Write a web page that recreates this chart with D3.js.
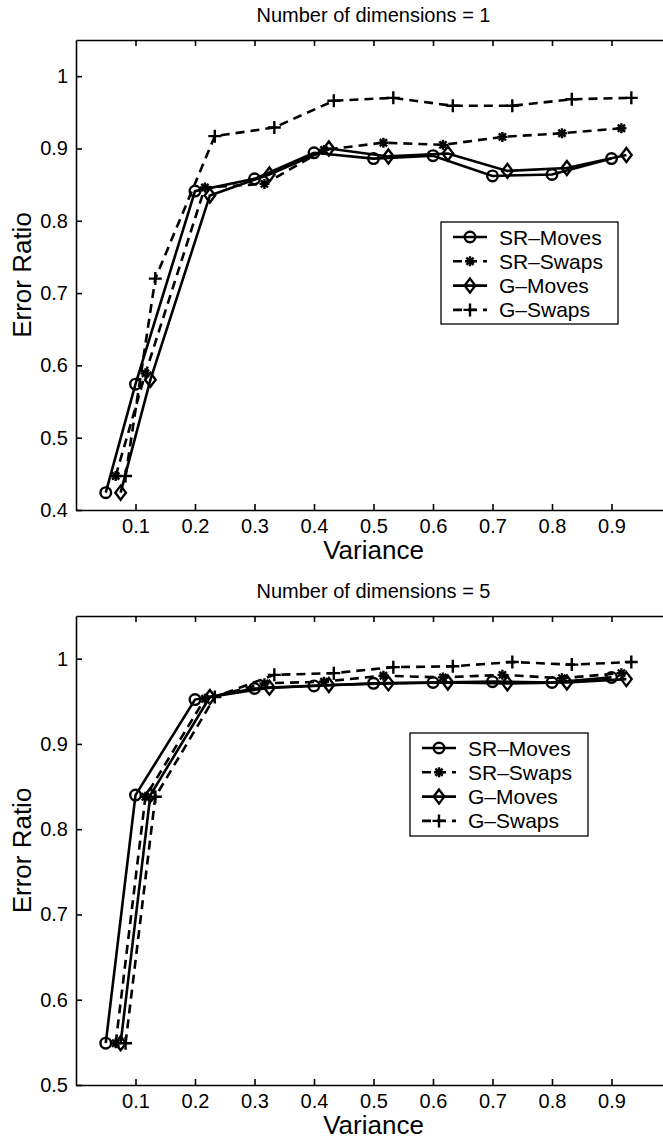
<!DOCTYPE html>
<html>
<head>
    <title>Error Ratio vs Variance</title>
    <script src="https://cdnjs.cloudflare.com/ajax/libs/d3/7.8.5/d3.min.js"></script>
    <style>
        body { margin: 0; background: white; }
        svg { display: block; font-family: "Liberation Sans", Arial, Helvetica, sans-serif; }
        .axis path, .axis line { stroke: #000; stroke-width: 1.6px; }
        .axis text { font-size: 20px; fill: #000; }
        .series { fill: none; stroke: #000; stroke-width: 2.6px; }
        .marker { fill: none; stroke: #000; stroke-width: 2.4px; }
    </style>
</head>
<body>
    <svg id="chart"></svg>

    <script>
        const width = 663;
        const height = 1140;

        // series names, marker type, dashed or not
        const seriesNames = ["SR\u2013Moves", "SR\u2013Swaps", "G\u2013Moves", "G\u2013Swaps"];
        const seriesMarkers = ["circle", "star", "diamond", "plus"];
        const seriesDashed = [false, true, false, true];

        // variance values for each series (small shift between the methods)
        const xSRMoves = [0.05, 0.1, 0.2, 0.3, 0.4, 0.5, 0.6, 0.7, 0.8, 0.9];
        const xSRSwaps = [0.0667, 0.1167, 0.2167, 0.3167, 0.4167, 0.5167, 0.6167, 0.7167, 0.8167, 0.9167];
        const xGMoves = [0.075, 0.125, 0.225, 0.325, 0.425, 0.525, 0.625, 0.725, 0.825, 0.925];
        const xGSwaps = [0.0833, 0.1333, 0.2333, 0.3333, 0.4333, 0.5333, 0.6333, 0.7333, 0.8333, 0.9333];

        // Number of dimensions = 1
        const d1SRMoves = [0.424, 0.574, 0.841, 0.858, 0.894, 0.886, 0.890, 0.862, 0.864, 0.886];
        const d1SRSwaps = [0.447, 0.589, 0.846, 0.851, 0.898, 0.908, 0.905, 0.916, 0.921, 0.928];
        const d1GMoves = [0.424, 0.580, 0.835, 0.864, 0.900, 0.889, 0.893, 0.869, 0.873, 0.891];
        const d1GSwaps = [0.447, 0.720, 0.917, 0.929, 0.966, 0.970, 0.959, 0.959, 0.968, 0.970];

        // Number of dimensions = 5
        const d5SRMoves = [0.549, 0.840, 0.952, 0.965, 0.968, 0.971, 0.972, 0.973, 0.972, 0.978];
        const d5SRSwaps = [0.549, 0.838, 0.953, 0.971, 0.973, 0.980, 0.978, 0.981, 0.977, 0.983];
        const d5GMoves = [0.549, 0.840, 0.955, 0.966, 0.969, 0.971, 0.972, 0.971, 0.972, 0.976];
        const d5GSwaps = [0.549, 0.838, 0.955, 0.981, 0.983, 0.990, 0.991, 0.996, 0.993, 0.996];

        const xTicks = [0.1, 0.2, 0.3, 0.4, 0.5, 0.6, 0.7, 0.8, 0.9];
        const yTicks1 = [0.4, 0.5, 0.6, 0.7, 0.8, 0.9, 1];
        const yTicks5 = [0.5, 0.6, 0.7, 0.8, 0.9, 1];

        const xs = [xSRMoves, xSRSwaps, xGMoves, xGSwaps];

        const panels = [
            {
                title: "Number of dimensions = 1",
                ys: [d1SRMoves, d1SRSwaps, d1GMoves, d1GSwaps],
                yDomain: [0.4, 1.05], yTicks: yTicks1,
                top: 40, bottom: 510,
                legend: {x: 441, y: 222, w: 177, h: 102}
            },
            {
                title: "Number of dimensions = 5",
                ys: [d5SRMoves, d5SRSwaps, d5GMoves, d5GSwaps],
                yDomain: [0.5, 1.05], yTicks: yTicks5,
                top: 616, bottom: 1085,
                legend: {x: 410, y: 733, w: 178, h: 103}
            }
        ];

        const left = 76;
        const right = 671;   // box runs past the window edge

        const svg = d3.select("#chart")
            .attr("width", width)
            .attr("height", height);

        function drawMarker(g, type, cx, cy) {
            if (type === "circle") {
                g.append("circle").attr("class", "marker")
                    .attr("cx", cx).attr("cy", cy).attr("r", 5.3);
            } else if (type === "diamond") {
                g.append("path").attr("class", "marker")
                    .attr("d", `M${cx},${cy - 7}L${cx + 5.3},${cy}L${cx},${cy + 7}L${cx - 5.3},${cy}Z`);
            } else if (type === "plus") {
                g.append("path").attr("class", "marker")
                    .attr("stroke-width", 2.8)
                    .attr("d", `M${cx - 6.5},${cy}H${cx + 6.5}M${cx},${cy - 6.5}V${cy + 6.5}`);
            } else if (type === "star") {
                const r = 5, q = r * 0.72;
                g.append("path").attr("class", "marker")
                    .attr("stroke-width", 2.8)
                    .attr("d", `M${cx - r},${cy}H${cx + r}M${cx},${cy - r}V${cy + r}` +
                        `M${cx - q},${cy - q}L${cx + q},${cy + q}M${cx - q},${cy + q}L${cx + q},${cy - q}`);
            }
        }

        panels.forEach(p => {
            const g = svg.append("g");

            const x = d3.scaleLinear().domain([0, 1]).range([left, right]);
            const y = d3.scaleLinear().domain(p.yDomain).range([p.bottom, p.top]);

            // title
            g.append("text")
                .attr("x", (left + right) / 2)
                .attr("y", p.top - 18)
                .attr("text-anchor", "middle")
                .attr("font-size", 20)
                .text(p.title);

            // axes (ticks point inwards, like the original)
            g.append("g").attr("class", "axis")
                .attr("transform", `translate(0,${p.bottom})`)
                .call(d3.axisBottom(x).tickValues(xTicks).tickSizeInner(-6).tickSizeOuter(0)
                    .tickPadding(9).tickFormat(d3.format("")));

            g.append("g").attr("class", "axis")
                .attr("transform", `translate(0,${p.top})`)
                .call(d3.axisTop(x).tickValues(xTicks).tickSizeInner(-6).tickSizeOuter(0)
                    .tickFormat(""));

            g.append("g").attr("class", "axis")
                .attr("transform", `translate(${left},0)`)
                .call(d3.axisLeft(y).tickValues(p.yTicks).tickSizeInner(-6).tickSizeOuter(0)
                    .tickPadding(8).tickFormat(d3.format("")));

            // axis labels
            g.append("text")
                .attr("x", (left + right) / 2)
                .attr("y", p.bottom + 49)
                .attr("text-anchor", "middle")
                .attr("font-size", 26)
                .text("Variance");

            g.append("text")
                .attr("transform", `translate(31,${(p.top + p.bottom) / 2}) rotate(-90)`)
                .attr("text-anchor", "middle")
                .attr("font-size", 26)
                .text("Error Ratio");

            // series
            const line = d3.line().x(d => x(d[0])).y(d => y(d[1]));

            p.ys.forEach((vals, i) => {
                const pts = vals.map((v, j) => [xs[i][j], v]);
                g.append("path")
                    .datum(pts)
                    .attr("class", "series")
                    .attr("stroke-dasharray", seriesDashed[i] ? "9,6" : null)
                    .attr("d", line);
                pts.forEach(d => drawMarker(g, seriesMarkers[i], x(d[0]), y(d[1])));
            });

            // legend
            const L = p.legend;
            const lg = g.append("g");
            lg.append("rect")
                .attr("x", L.x).attr("y", L.y)
                .attr("width", L.w).attr("height", L.h)
                .attr("fill", "white").attr("stroke", "#000").attr("stroke-width", 1.3);

            seriesNames.forEach((name, i) => {
                const ly = L.y + 15 + i * 24.3;
                lg.append("line")
                    .attr("class", "series")
                    .attr("x1", L.x + 12).attr("x2", L.x + 46)
                    .attr("y1", ly).attr("y2", ly)
                    .attr("stroke-dasharray", seriesDashed[i] ? "9,6" : null);
                drawMarker(lg, seriesMarkers[i], L.x + 29, ly);
                lg.append("text")
                    .attr("x", L.x + 58)
                    .attr("y", ly + 7.5)
                    .attr("font-size", 21)
                    .text(name);
            });
        });
    </script>
</body>
</html>
